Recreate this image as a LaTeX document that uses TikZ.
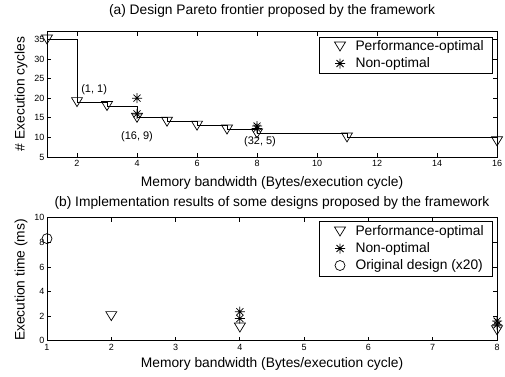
\documentclass[tikz,border=0pt]{standalone}
\usepackage{fontspec}
\setmainfont{Liberation Sans}

\begin{document}
\begin{tikzpicture}[
		x=1pt, y=1pt,
		every node/.style={font=\fontsize{13.8}{15}\selectfont},
		ticklabel/.style={font=\fontsize{9}{10}\selectfont, inner sep=1.5pt},
		xticklabel/.style={ticklabel, anchor=north, yshift=-2pt},
		yticklabel/.style={ticklabel, anchor=east, xshift=-1pt},
		pointlabel/.style={font=\fontsize{11}{12}\selectfont, inner sep=0pt},
		axisline/.style={line width=0.8pt},
		stairline/.style={line width=0.8pt},
		legendbox/.style={draw, line width=0.8pt, inner sep=0pt, minimum width=173pt},
		pics/optmark/.style={code={
				\draw[line width=0.7pt] (-5.5pt,4.5pt) -- (5.5pt,4.5pt) -- (0pt,-4.5pt) -- cycle;}},
		pics/nonoptmark/.style={code={
				\draw[line width=0.75pt] (-5pt,0pt) -- (5pt,0pt) (0pt,-5pt) -- (0pt,5pt)
				(-3.5pt,-3.5pt) -- (3.5pt,3.5pt) (-3.5pt,3.5pt) -- (3.5pt,-3.5pt);}},
		pics/origmark/.style={code={
				\draw[line width=0.7pt] (0pt,0pt) circle (5pt);}}
		]
		
		\useasboundingbox (0,0) rectangle (505,376);
		
		% (a) Pareto frontier
		\begin{scope}[shift={(17pt,199.4pt)}, x=30pt, y=3.92pt]
			\draw[axisline] (1,5) rectangle (16,37);
			\foreach \tx in {2,4,...,16} {
				\draw[axisline] (\tx,5) -- ++(0pt,4pt);
				\draw[axisline] (\tx,37) -- ++(0pt,-4pt);
				\node[xticklabel] (xtickA\tx) at (\tx,5) {\tx};
			}
			\foreach \ty in {5,10,...,35} {
				\draw[axisline] (1,\ty) -- ++(4pt,0pt);
				\draw[axisline] (16,\ty) -- ++(-4pt,0pt);
				\node[yticklabel] (ytickA\ty) at (1,\ty) {\ty};
			}
			
			% frontier
			\draw[stairline] (1,35) -| (2,19) -| (3,18) -| (4,15) -| (5,14) -| (6,13)
			-| (7,12) -| (8,11) -| (11,10) -- (16,10) -- (16,9);
			\foreach \px/\py in {1/35, 2/19, 3/18, 4/15, 5/14, 6/13, 7/12, 8/11, 11/10, 16/9}
			\pic at (\px,\py) {optmark};
			\foreach \px/\py in {4/20, 4/16, 8/12.9, 8/12.3}
			\pic at (\px,\py) {nonoptmark};
			
			% design labels
			\node[pointlabel] (designA) at (2.57,22.1) {(1, 1)};
			\node[pointlabel] (designB) at (4.0,10.1) {(16, 9)};
			\node[pointlabel] (designC) at (8.1,8.8) {(32, 5)};
		\end{scope}
		
		\node (titleA) at (272,365) {(a) Design Pareto frontier proposed by the framework};
		\node (xlabelA) at (272,193.5) {Memory bandwidth (Bytes/execution cycle)};
		\node[rotate=90] (ylabelA) at (21,282) {\# Execution cycles};
		
		% legend (a)
		\node[legendbox, minimum height=36pt] (legendA) at (405.5,321) {};
		\pic at (340,329.5) {optmark};
		\node[anchor=west] (legendAopt) at (352,329.5) {Performance-optimal};
		\pic at (340,312.5) {nonoptmark};
		\node[anchor=west] (legendAnon) at (352,312.5) {Non-optimal};
		
		% (b) Implementation results
		\begin{scope}[shift={(-17.29pt,35.3pt)}, x=64.29pt, y=12.3pt]
			\draw[axisline] (1,0) rectangle (8,10);
			\foreach \tx in {1,...,8} {
				\draw[axisline] (\tx,0) -- ++(0pt,4pt);
				\draw[axisline] (\tx,10) -- ++(0pt,-4pt);
				\node[xticklabel] (xtickB\tx) at (\tx,0) {\tx};
			}
			\foreach \ty in {0,2,...,10} {
				\draw[axisline] (1,\ty) -- ++(4pt,0pt);
				\draw[axisline] (8,\ty) -- ++(-4pt,0pt);
				\node[yticklabel] (ytickB\ty) at (1,\ty) {\ty};
			}
			
			% results
			\pic at (1,8.3) {origmark};
			\foreach \px/\py in {2/2.0, 4/1.07, 8/0.85}
			\pic at (\px,\py) {optmark};
			\foreach \px/\py in {4/2.36, 4/1.8, 8/1.6, 8/1.3}
			\pic at (\px,\py) {nonoptmark};
		\end{scope}
		
		\node (titleB) at (272,173) {(b) Implementation results of some designs proposed by the framework};
		\node (xlabelB) at (272,12) {Memory bandwidth (Bytes/execution cycle)};
		\node[rotate=90] (ylabelB) at (21,96) {Execution time (ms)};
		
		% legend (b)
		\node[legendbox, minimum height=55pt] (legendB) at (405.5,127.5) {};
		\pic at (340,144.5) {optmark};
		\node[anchor=west] (legendBopt) at (352,144.5) {Performance-optimal};
		\pic at (340,127.5) {nonoptmark};
		\node[anchor=west] (legendBnon) at (352,127.5) {Non-optimal};
		\pic at (340,110.5) {origmark};
		\node[anchor=west] (legendBorig) at (352,110.5) {Original design (x20)};
		
	\end{tikzpicture}
\end{document}
